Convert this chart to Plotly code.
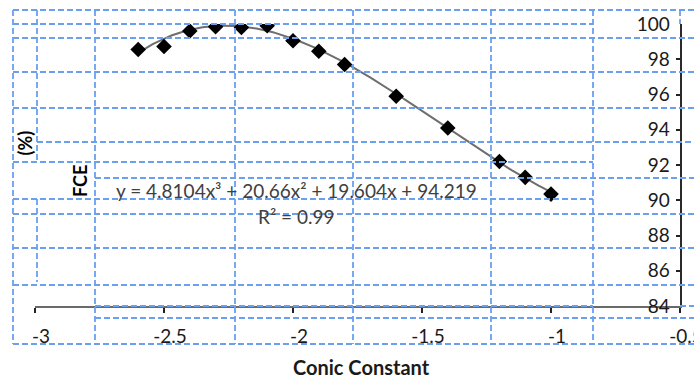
import numpy as np
import plotly.graph_objects as go

# Measured FCE against conic constant
conic_constant = [-2.6, -2.5, -2.4, -2.3, -2.2, -2.1, -2.0, -1.9, -1.8, -1.6, -1.4, -1.2, -1.1, -1.0]
fce_percent = [98.55, 98.72, 99.6, 99.85, 99.8, 99.9, 99.05, 98.45, 97.7, 95.9, 94.1, 92.2, 91.3, 90.35]

# Cubic trendline coefficients (x^3, x^2, x, 1) and its R^2
trend_coeffs = [4.8104, 20.66, 19.604, 94.219]
r_squared = 0.99

x_tick_vals = [-3, -2.5, -2, -1.5, -1, -0.5]
x_tick_text = ["-3", "-2.5", "-2", "-1.5", "-1", "-0.5"]
y_tick_vals = [84, 86, 88, 90, 92, 94, 96, 98, 100]

W, H = 694, 378
ML, MR, MT, MB = 35, 14, 24, 72
PW, PH = W - ML - MR, H - MT - MB

FONT = "Lato"
TABLE_BLUE = "#6b9ff0"


def px_x(p):
    return (p - ML) / PW


def px_y(p):
    return (H - MB - p) / PH


# Dashed cell borders of the surrounding table: (y, x0, x1) and (x, y0, y1) in pixels
h_borders = [
    (10, 13, 694), (24, 13, 593), (38, 13, 694), (72, 13, 694), (108, 13, 694),
    (142, 37, 694), (162, 13, 593), (178, 95, 694), (199, 13, 593), (214, 13, 694),
    (248, 13, 694), (285, 13, 694), (306, 95, 593), (306, 680, 694), (318, 95, 694),
    (344, 13, 694),
]
v_borders = [
    (13, 10, 344), (37, 10, 162), (37, 199, 282), (95, 10, 344), (235, 10, 344),
    (353, 10, 344), (491, 10, 344), (593, 10, 344), (680, 10, 24),
]

shapes = []
for y, x0, x1 in h_borders:
    shapes.append(dict(type="line", xref="paper", yref="paper", layer="above",
                       x0=px_x(x0), x1=px_x(x1), y0=px_y(y), y1=px_y(y),
                       line=dict(color=TABLE_BLUE, width=1.8, dash="6px,3px")))
for x, y0, y1 in v_borders:
    shapes.append(dict(type="line", xref="paper", yref="paper", layer="above",
                       x0=px_x(x), x1=px_x(x), y0=px_y(y0), y1=px_y(y1),
                       line=dict(color=TABLE_BLUE, width=1.8, dash="6px,3px")))

# Trendline evaluated from the fitted polynomial over the data span
trend_x = np.linspace(min(conic_constant), max(conic_constant), 200)
trend_y = np.polyval(trend_coeffs, trend_x)

fig = go.Figure()
fig.add_trace(go.Scatter(x=trend_x, y=trend_y, mode="lines",
                         line=dict(color="#6e6e6e", width=2), hoverinfo="skip",
                         showlegend=False))
fig.add_trace(go.Scatter(x=conic_constant, y=fce_percent, mode="markers",
                         marker=dict(symbol="diamond", size=12, color="black"),
                         showlegend=False))

a, b, c, d = trend_coeffs
equation = f"y = {a}x³ + {b}x² + {c}x + {d}"
r2_text = f"R² = {r_squared}"

annotations = [
    dict(text=equation, xref="paper", yref="paper", x=px_x(296), y=px_y(190),
         xanchor="center", yanchor="middle", showarrow=False,
         font=dict(family=FONT, size=19, color="#404040")),
    dict(text=r2_text, xref="paper", yref="paper", x=px_x(296), y=px_y(216),
         xanchor="center", yanchor="middle", showarrow=False,
         font=dict(family=FONT, size=19, color="#404040")),
    dict(text="<b>FCE</b>", xref="paper", yref="paper", x=px_x(80), y=px_y(181),
         xanchor="center", yanchor="middle", showarrow=False, textangle=-90,
         font=dict(family=FONT, size=18, color="black")),
    dict(text="<b>(%)</b>", xref="paper", yref="paper", x=px_x(24), y=px_y(143.5),
         xanchor="center", yanchor="middle", showarrow=False, textangle=-90,
         font=dict(family=FONT, size=18, color="black")),
    # x-axis title
    dict(text="<b>Conic Constant</b>", xref="paper", yref="paper", x=px_x(361), y=px_y(367),
         xanchor="center", yanchor="middle", showarrow=False,
         font=dict(family=FONT, size=20, color="#1a1a1a")),
]

fig.update_layout(
    width=W, height=H, autosize=False,
    margin=dict(l=ML, r=MR, t=MT, b=MB, pad=0),
    paper_bgcolor="white", plot_bgcolor="white",
    shapes=shapes, annotations=annotations,
    font=dict(family=FONT, size=19, color="#1a1a1a"),
    xaxis=dict(
        range=[-3, -0.5], tickvals=x_tick_vals, ticktext=x_tick_text,
        automargin=False,
        showgrid=False, zeroline=False,
        showline=True, linecolor="#6a6a6a", linewidth=2,
        ticks="outside", ticklen=5, tickwidth=2, tickcolor="#222",
        ticklabelstandoff=7, ticklabelshift=6, ticklabeloverflow="allow",
        tickfont=dict(family=FONT, size=19, color="#1a1a1a"),
    ),
    yaxis=dict(
        range=[84, 100], tickvals=y_tick_vals, side="right",
        automargin=False,
        showgrid=False, zeroline=False,
        showline=True, linecolor="#2a2a2a", linewidth=2,
        ticks="inside", ticklen=4, tickwidth=2, tickcolor="#222",
        ticklabelposition="inside", ticklabeloverflow="allow",
        ticklabelstandoff=7,
        tickfont=dict(family=FONT, size=19, color="#1a1a1a"),
    ),
)

fig.write_html("out.html")
